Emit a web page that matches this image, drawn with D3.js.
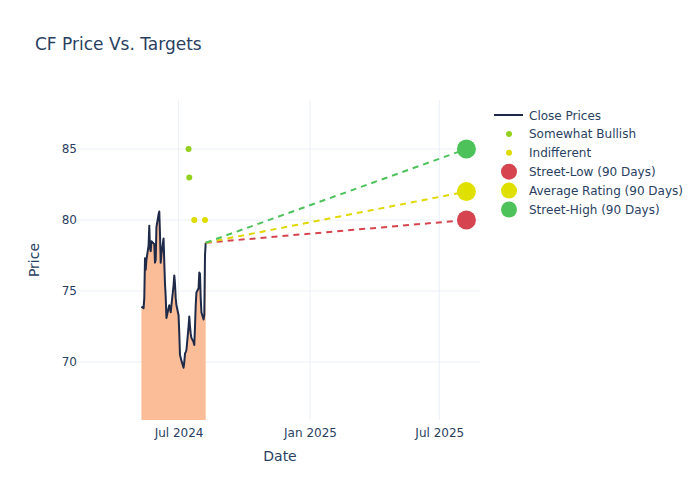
<!DOCTYPE html>
<html><head><meta charset="utf-8">
<script src="https://cdn.jsdelivr.net/npm/d3@7"></script>
<style>body{margin:0;background:#fff;} text{font-family:"DejaVu Sans",sans-serif;}</style>
</head><body><svg id="c" width="700" height="500"></svg>
<script>
const closeDates = ["2024-05-10","2024-05-13","2024-05-14","2024-05-15","2024-05-16","2024-05-17","2024-05-20","2024-05-21","2024-05-22","2024-05-23","2024-05-24","2024-05-28","2024-05-29","2024-05-30","2024-05-31","2024-06-03","2024-06-04","2024-06-05","2024-06-06","2024-06-07","2024-06-10","2024-06-11","2024-06-12","2024-06-13","2024-06-14","2024-06-17","2024-06-18","2024-06-20","2024-06-21","2024-06-24","2024-06-25","2024-06-26","2024-06-27","2024-06-28","2024-07-01","2024-07-02","2024-07-03","2024-07-05","2024-07-08","2024-07-09","2024-07-10","2024-07-11","2024-07-12","2024-07-15","2024-07-16","2024-07-17","2024-07-18","2024-07-19","2024-07-22","2024-07-23","2024-07-24","2024-07-25","2024-07-26","2024-07-29","2024-07-30","2024-07-31","2024-08-01","2024-08-02","2024-08-05","2024-08-06","2024-08-07","2024-08-08"];
const closePrices = [73.9,73.8,74.5,77.3,76.5,77.2,78.2,79.6,78.0,77.8,78.5,78.3,77.0,77.2,79.5,80.4,80.6,79.0,77.0,77.6,78.7,77.0,75.5,74.6,73.1,73.8,74.0,73.5,74.0,75.4,76.1,75.5,74.5,74.0,73.3,72.0,70.5,70.1,69.6,70.0,70.6,70.7,70.85,72.5,73.2,72.5,72.0,71.7,71.4,71.2,72.5,74.0,74.9,75.2,76.3,76.2,74.5,73.5,73.0,73.3,77.5,78.4];
const bullishDates = ["2024-07-15","2024-07-16"];
const bullishValues = [85,83];
const indifferentDates = ["2024-07-23","2024-08-07"];
const indifferentValues = [80,80];
const targetDate = "2025-08-08";
const targetNames = ["Street-Low (90 Days)","Average Rating (90 Days)","Street-High (90 Days)"];
const targetValues = [80,82,85];
const xTickDates = ["2024-07-01","2025-01-01","2025-07-01"];
const yTicks = [70,75,80,85];

const parse = d3.timeParse("%Y-%m-%d");
const svg = d3.select("#c");
const L=80,R=480,T=100,B=420;
const x = d3.scaleTime().domain([parse("2024-02-14"),parse("2025-08-27")]).range([L,R]);
const y = d3.scaleLinear().domain([65.92,88.45]).range([B,T]);
const txt="#2a3f5f", grid="#ebf0f8";
const targetColors=["#d6454f","#e0e000","#4dc25a"];
const lineColors=["#d6454f","#e0d800","#4dc25a"];

svg.append("g").selectAll("line").data(yTicks).join("line")
  .attr("x1",L).attr("x2",R).attr("y1",d=>y(d)).attr("y2",d=>y(d)).attr("stroke",grid).attr("stroke-width",1);
svg.append("g").selectAll("line").data(xTickDates).join("line")
  .attr("y1",T).attr("y2",B).attr("x1",d=>x(parse(d))).attr("x2",d=>x(parse(d))).attr("stroke",grid).attr("stroke-width",1);

const xAxis = d3.axisBottom(x).tickValues(xTickDates.map(parse)).tickFormat(d3.timeFormat("%b %Y")).tickSize(0).tickPadding(8);
const gx = svg.append("g").attr("transform",`translate(0,${B})`).call(xAxis);
gx.select(".domain").remove();
gx.selectAll("text").attr("fill",txt).style("font-size","12px").style("font-family","DejaVu Sans");
const yAxis = d3.axisLeft(y).tickValues(yTicks).tickSize(0).tickPadding(3);
const gy = svg.append("g").attr("transform",`translate(${L},0)`).call(yAxis);
gy.select(".domain").remove();
gy.selectAll("text").attr("fill",txt).style("font-size","12px").style("font-family","DejaVu Sans");

svg.append("clipPath").attr("id","pc").append("rect").attr("x",L).attr("y",T).attr("width",R-L).attr("height",B-T);
const plot = svg.append("g").attr("clip-path","url(#pc)");

const closeData = closeDates.map((d,i)=>({d:parse(d),v:closePrices[i]}));
plot.append("path").datum(closeData)
  .attr("d",d3.area().x(p=>x(p.d)).y0(B).y1(p=>y(p.v)))
  .attr("fill","#fbbd98");
plot.append("path").datum(closeData)
  .attr("d",d3.line().x(p=>x(p.d)).y(p=>y(p.v)))
  .attr("fill","none").attr("stroke","#1f2a48").attr("stroke-width",2).attr("stroke-linejoin","round");

const last = closeData[closeData.length-1];
targetValues.forEach((v,i)=>{
  plot.append("line").attr("x1",x(last.d)).attr("y1",y(last.v)).attr("x2",x(parse(targetDate))).attr("y2",y(v))
    .attr("stroke",lineColors[i]).attr("stroke-width",2).attr("stroke-dasharray","6,5");
});
plot.selectAll(".b").data(bullishDates).join("circle").attr("cx",d=>x(parse(d))).attr("cy",(d,i)=>y(bullishValues[i])).attr("r",3).attr("fill","#94d11f");
plot.selectAll(".i").data(indifferentDates).join("circle").attr("cx",d=>x(parse(d))).attr("cy",(d,i)=>y(indifferentValues[i])).attr("r",3).attr("fill","#dedc00");
svg.append("g").selectAll("circle").data(targetValues).join("circle")
  .attr("cx",x(parse(targetDate))).attr("cy",d=>y(d)).attr("r",9.5).attr("fill",(d,i)=>targetColors[i]);

svg.append("text").attr("x",35).attr("y",50).text("CF Price Vs. Targets").attr("fill",txt).style("font-size","17px");
svg.append("text").attr("x",(L+R)/2).attr("y",461).attr("text-anchor","middle").text("Date").attr("fill",txt).style("font-size","14px");
svg.append("text").attr("transform",`translate(39,${(T+B)/2}) rotate(-90)`).attr("text-anchor","middle").text("Price").attr("fill",txt).style("font-size","14px");

const leg = svg.append("g");
const rows = [
  {name:"Close Prices",type:"line",color:"#1f2a48"},
  {name:"Somewhat Bullish",type:"dot",color:"#94d11f",r:3},
  {name:"Indifferent",type:"dot",color:"#dedc00",r:3},
  {name:targetNames[0],type:"dot",color:targetColors[0],r:8},
  {name:targetNames[1],type:"dot",color:targetColors[1],r:8},
  {name:targetNames[2],type:"dot",color:targetColors[2],r:8}
];
rows.forEach((r,i)=>{
  const yy = 115 + i*18.9;
  if(r.type==="line") leg.append("line").attr("x1",494).attr("x2",523).attr("y1",yy).attr("y2",yy).attr("stroke",r.color).attr("stroke-width",2);
  else leg.append("circle").attr("cx",509).attr("cy",yy).attr("r",r.r).attr("fill",r.color);
  leg.append("text").attr("x",529).attr("y",yy+4.5).text(r.name).attr("fill",txt).style("font-size","12px");
});
</script></body></html>
